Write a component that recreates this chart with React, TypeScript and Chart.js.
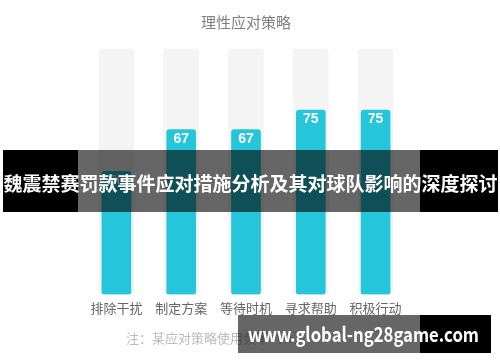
import React, { useEffect, useRef } from "react";
import { Chart, registerables } from "chart.js";

Chart.register(...registerables);

const categories = ["排除干扰", "制定方案", "等待时机", "寻求帮助", "积极行动"];
const values = [50, 67, 67, 75, 75];
const fullValues = [100, 100, 100, 100, 100];
const chartTitle = "理性应对策略";
const noteText = "注：某应对策略使用频率（%）";
const bannerText = "魏震禁赛罚款事件应对措施分析及其对球队影响的深度探讨";
const watermarkText = "www.global-ng28game.com";

const CJK = '"Noto Sans CJK SC", "Noto Sans", sans-serif';

export default function App() {
  const canvasRef = useRef<HTMLCanvasElement | null>(null);

  useEffect(() => {
    const canvas = canvasRef.current;
    if (!canvas) return;

    const extras = {
      id: "extras",
      afterDraw(chart: any) {
        const ctx = chart.ctx;
        ctx.save();
        ctx.textAlign = "center";
        ctx.textBaseline = "middle";
        ctx.fillStyle = "#808080";
        ctx.font = `15px ${CJK}`;
        ctx.fillText(chartTitle, 246, 22);

        const meta = chart.getDatasetMeta(0);
        ctx.fillStyle = "#ffffff";
        ctx.font = 'bold 14px "Liberation Sans", Arial, sans-serif';
        meta.data.forEach((bar: any, i: number) => {
          ctx.fillText(String(values[i]), bar.x, bar.y + 9.5);
        });

        ctx.textAlign = "left";
        ctx.fillStyle = "#bbbbbb";
        ctx.font = `13px ${CJK}`;
        ctx.fillText(noteText, 126, 338);

        // banner overlay
        ctx.fillStyle = "#000000";
        ctx.fillRect(3, 150, 75, 62);
        ctx.fillRect(420, 150, 78, 62);
        ctx.fillStyle = "rgba(0,0,0,0.6)";
        ctx.fillRect(78, 150, 342, 62);
        ctx.fillStyle = "#ffffff";
        ctx.textAlign = "center";
        ctx.font = `bold 19px ${CJK}`;
        ctx.fillText(bannerText, 250.5, 184, 494);

        // watermark overlay
        ctx.fillStyle = "rgba(0,0,0,0.6)";
        ctx.fillRect(238, 315, 182, 38);
        ctx.fillStyle = "#000000";
        ctx.fillRect(420, 315, 71, 38);
        ctx.fillStyle = "#ffffff";
        ctx.textAlign = "left";
        ctx.font = `bold 20px ${CJK}`;
        ctx.fillText(watermarkText, 248, 334, 231);
        ctx.restore();
      },
    };

    const chart = new Chart(canvas, {
      type: "bar",
      data: {
        labels: categories,
        datasets: [
          {
            data: values,
            backgroundColor: "#26c6da",
            barThickness: 29,
            borderRadius: 3,
            borderSkipped: false,
            order: 0,
          },
          {
            data: fullValues,
            backgroundColor: "#f4f4f4",
            barThickness: 35,
            borderRadius: 4,
            borderSkipped: false,
            order: 1,
          },
        ],
      },
      options: {
        responsive: false,
        animation: false,
        layout: { padding: { left: 84, right: 92, top: 48.5, bottom: 40 } },
        plugins: {
          legend: { display: false },
          tooltip: { enabled: false },
          title: { display: false },
        },
        scales: {
          x: {
            stacked: true,
            border: { display: false },
            grid: { display: false, drawTicks: false },
            ticks: {
              padding: 6,
              color: "#666666",
              font: { size: 13, family: CJK },
            },
          },
          y: {
            display: false,
            min: 0,
            max: 100,
            stacked: false,
          },
        },
      },
      plugins: [extras],
    });

    return () => chart.destroy();
  }, []);

  return (
    <div style={{ position: "fixed", left: 0, top: 0, width: 500, height: 362, background: "#fff" }}>
      <canvas ref={canvasRef} width={500} height={362} style={{ position: "absolute", left: 0, top: 0 }} />
    </div>
  );
}
